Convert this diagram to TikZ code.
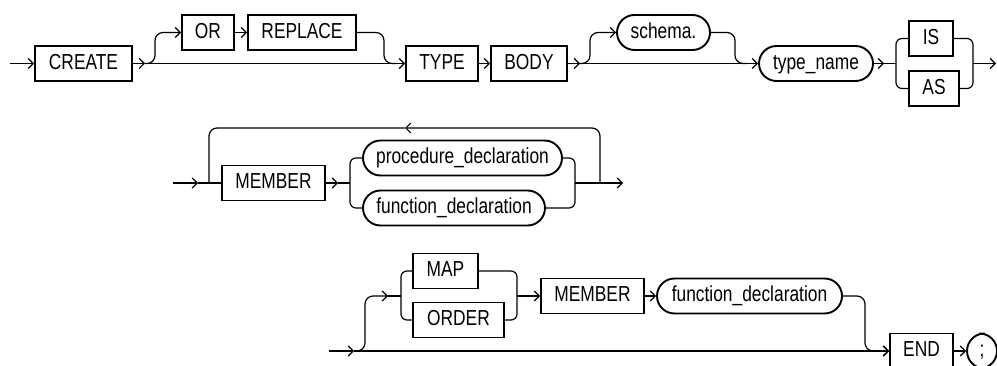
\documentclass[tikz,border=0pt]{standalone}
\usepackage{fontspec}
\setmainfont{Liberation Sans}[FakeStretch=0.8]
\usetikzlibrary{arrows.meta}
\begin{document}
\begin{tikzpicture}[x=1pt,y=-1pt,
  kw/.style={draw, line width=1.9pt, rectangle, minimum height=35pt, inner sep=0pt,
    text height=15.5pt, text depth=4pt, font=\fontsize{21.7}{26}\selectfont},
  ov/.style={kw, rounded corners=17.5pt},
  ln/.style={line width=1.2pt, rounded corners=8pt},
  br/.style={ln, rounded corners=6pt},
  arr/.style={ln, -{Straight Barb[length=5pt,width=10pt]}}]
\useasboundingbox (0,0) rectangle (997,366);
% ---------- row 1
\node[kw,minimum width=97pt] (create) at (83.5,63.5) {CREATE};
\node[kw,minimum width=52pt] (or) at (208,32.5) {OR};
\node[kw,minimum width=108pt] (replace) at (302,32.5) {REPLACE};
\node[kw,minimum width=72pt] (type) at (442,63.5) {TYPE};
\node[kw,minimum width=76pt] (body) at (529,63.5) {BODY};
\node[ov,minimum width=93pt] (schema) at (663.5,32.5) {schema.};
\node[ov,minimum width=114pt] (tname) at (816,63.5) {type\_name};
\node[kw,minimum width=44pt] (is) at (931,38.5) {IS};
\node[kw,minimum width=50pt] (as) at (934,88.5) {AS};
\coordinate (s1) at (10,63.5);
\coordinate (a1) at (145,63.5);
\coordinate (a2) at (580,63.5);
\coordinate (a3) at (884,63.5);
\coordinate (j1) at (896,63.5);
\coordinate (m1) at (973,63.5);
\coordinate (e1) at (996,63.5);
\draw[arr] (s1) -- (create.west);
\draw[arr] (create.east) -- (a1);
\draw[arr] (a1) -- (type.west);
\draw[arr] (a1) -- (155,63.5) -- (155,32.5) -- (or.west);
\draw[arr] (or.east) -- (replace.west);
\draw[ln] (replace.east) -- (384,32.5) -- (384,63.5) -- (396,63.5);
\draw[arr] (type.east) -- (body.west);
\draw[arr] (body.east) -- (a2);
\draw[arr] (a2) -- (tname.west);
\draw[arr] (a2) -- (590,63.5) -- (590,32.5) -- (schema.west);
\draw[ln] (schema.east) -- (735,32.5) -- (735,63.5) -- (747,63.5);
\draw[arr] (tname.east) -- (a3);
\draw[ln] (a3) -- (j1);
\draw[br] (j1) -- (896,38.5) -- (is.west);
\draw[br] (j1) -- (896,88.5) -- (as.west);
\draw[br] (is.east) -- (973,38.5) -- (m1);
\draw[br] (as.east) -- (973,88.5) -- (m1);
\draw[arr] (m1) -- (e1);
% ---------- row 2
\node[kw,minimum width=103pt] (member) at (273.5,183) {MEMBER};
\node[ov,minimum width=199pt] (proc) at (462.5,158) {procedure\_declaration};
\node[ov,minimum width=182pt] (func) at (454,208) {function\_declaration};
\coordinate (s2) at (173,183);
\coordinate (b1) at (198,183);
\coordinate (b2) at (338,183);
\coordinate (j2) at (350,183);
\coordinate (m2) at (575,183);
\coordinate (lp) at (600,183);
\coordinate (la) at (405,128);
\coordinate (e2) at (623,183);
\draw[arr] (s2) -- (b1);
\draw[ln] (b1) -- (member.west);
\draw[arr] (member.east) -- (b2);
\draw[ln] (b2) -- (j2);
\draw[br] (j2) -- (350,158) -- (proc.west);
\draw[br] (j2) -- (350,208) -- (func.west);
\draw[br] (proc.east) -- (575,158) -- (m2);
\draw[br] (func.east) -- (575,208) -- (m2);
\draw[arr] (m2) -- (e2);
\draw[arr] (lp) -- (600,128) -- (la);
\draw[ln] (la) -- (209,128) -- (209,183);
% ---------- row 3
\node[kw,minimum width=65pt] (map) at (445.5,271) {MAP};
\node[kw,minimum width=91pt] (order) at (458.5,320) {ORDER};
\node[kw,minimum width=103pt] (member2) at (592.5,296) {MEMBER};
\node[ov,minimum width=185pt] (func2) at (749.5,296) {function\_declaration};
\node[kw,minimum width=63pt] (end) at (921.5,351) {END};
\node[ov,minimum width=30pt] (semi) at (982,351) {;};
\coordinate (s3) at (329,351);
\coordinate (c1) at (354,351);
\coordinate (c2) at (388,296);
\coordinate (j3) at (401,296);
\coordinate (m3) at (517,296);
\draw[arr] (s3) -- (c1);
\draw[arr] (c1) -- (end.west);
\draw[arr] (c1) -- (365,351) -- (365,296) -- (c2);
\draw[ln] (c2) -- (j3);
\draw[br] (j3) -- (401,271) -- (map.west);
\draw[br] (j3) -- (401,320) -- (order.west);
\draw[br] (map.east) -- (517,271) -- (m3);
\draw[br] (order.east) -- (517,320) -- (m3);
\draw[arr] (m3) -- (member2.west);
\draw[arr] (member2.east) -- (func2.west);
\draw[arr] (func2.east) -- (865,296) -- (865,351) -- (end.west);
\draw[arr] (end.east) -- (semi.west);
\end{tikzpicture}
\end{document}
